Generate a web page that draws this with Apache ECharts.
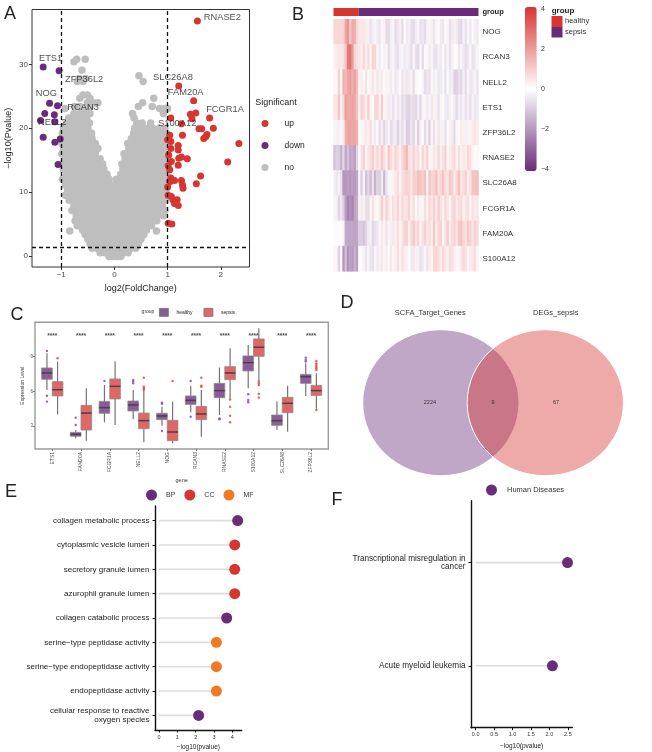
<!DOCTYPE html>
<html><head><meta charset="utf-8">
<style>html,body{margin:0;padding:0;background:#fff}#c{width:652px;height:752px;filter:blur(0.45px)}</style>
<script src="https://cdn.jsdelivr.net/npm/echarts@6/dist/echarts.min.js"></script>
</head><body><div id="c"></div>
<script>
// ---------- A: volcano
const volcanoUp = [[1.56,36.8],[1.21,26.6],[1.49,24.3],[1.53,22.4],[1.43,22.2],[1.46,21.5],[1.79,21.6],[1.06,21.6],[1.26,20.7],[1.86,20.0],[1.59,19.9],[1.64,19.9],[1.74,19.0],[1.68,18.4],[1.72,18.7],[1.28,18.9],[1.04,18.9],[2.34,17.6],[2.13,14.7],[1.06,17.9],[1.0,18.2],[1.2,17.3],[1.2,16.6],[1.06,16.8],[1.02,15.8],[1.26,15.5],[1.21,15.3],[1.37,15.2],[1.07,14.8],[1.2,14.2],[1.01,14.1],[1.04,13.5],[1.62,12.5],[1.54,11.3],[1.06,12.2],[1.13,11.8],[1.04,11.6],[1.26,11.8],[1.28,11.1],[1.29,10.6],[1.0,10.8],[1.01,9.5],[1.07,9.3],[1.1,8.8],[1.18,8.8],[1.13,8.2],[1.2,7.9],[1.01,5.1],[1.08,5.0]];
const volcanoDown = [[-1.34,29.6],[-1.04,29.0],[-1.22,23.9],[-1.07,23.5],[-1.31,22.3],[-1.13,22.1],[-1.39,21.2],[-1.12,21.0],[-1.34,18.6],[-1.12,17.8],[-1.02,18.3],[-1.06,14.3]];
const volcanoNoRows = [
[-.1,[-.1,-.02,.06,.12]],
[.5,[-.27,-.18,-.09,0,.09,.18,.26]],
[1.2,[-.42,-.33,-.24,-.15,-.06,.04,.13,.22,.31,.4]],
[1.9,[-.46,-.36,-.26,-.16,-.06,.04,.14,.24,.34,.45]],
[2.6,[-.5,-.4,-.3,-.2,-.1,0,.1,.2,.3,.4,.5]],
[3.3,[-.55,-.44,-.33,-.22,-.11,0,.11,.22,.33,.44,.55]],
[3.9,[-.84,.79]],
[4,[-.6,-.5,-.39,-.28,-.17,-.06,.05,.16,.27,.38,.48,.6]],
[4.7,[-.7,-.58,-.46,-.35,-.24,-.13,-.02,.09,.2,.31,.42,.52,.62,.7]],
[5.5,[-.74,-.62,-.5,-.39,-.28,-.17,-.06,.05,.16,.27,.38,.49,.6,.7,.8]],
[6.3,[-.72,-.6,-.49,-.38,-.27,-.16,-.05,.03,.14,.25,.36,.47,.58,.69,.8,.92]],
[7.1,[-.8,-.69,-.58,-.47,-.36,-.25,-.14,-.04,.08,.19,.3,.41,.52,.63,.74,.85,.95]],
[7.9,[-.76,-.65,-.54,-.43,-.32,-.21,-.1,.02,.13,.24,.35,.46,.57,.68,.79,.9]],
[8.7,[-.85,-.74,-.63,-.52,-.41,-.3,-.19,-.09,.02,.08,.19,.3,.41,.52,.63,.74,.85,.96]],
[9.5,[-.92,-.8,-.69,-.58,-.47,-.36,-.25,-.14,-.04,.02,.13,.24,.35,.46,.57,.68,.79,.9]],
[10.3,[-.88,-.77,-.66,-.55,-.44,-.33,-.22,-.12,-.03,.03,.09,.2,.31,.42,.53,.64,.75,.86,.97]],
[11.1,[-.92,-.8,-.69,-.58,-.47,-.36,-.25,-.15,-.05,.03,.14,.25,.36,.47,.58,.69,.8,.91]],
[12,[-.98,-.86,-.75,-.64,-.53,-.42,-.31,-.2,-.1,.04,.08,.19,.3,.41,.52,.63,.74,.85,.96]],
[12.8,[-.9,-.79,-.68,-.57,-.46,-.35,-.24,-.14,.12,.23,.34,.45,.56,.67,.78,.89,.98]],
[13.6,[-.96,-.85,-.74,-.63,-.52,-.41,-.3,-.2,.16,.27,.38,.49,.6,.71,.82,.93]],
[14.4,[-.99,-.88,-.77,-.66,-.55,-.44,-.33,-.22,.14,.25,.36,.47,.58,.69,.8,.91,.99]],
[15.2,[-.93,-.82,-.71,-.6,-.49,-.38,-.27,.2,.31,.42,.53,.64,.75,.86,.97]],
[16,[-.99,-.88,-.77,-.66,-.55,-.44,-.36,.18,.29,.4,.51,.62,.73,.84,.95]],
[16.8,[-.95,-.84,-.73,-.62,-.51,-.4,-.31,.27,.38,.49,.6,.71,.82,.93]],
[17.6,[-.99,-.88,-.77,-.66,-.55,-.44,-.36,.25,.36,.47,.58,.69,.8,.91,.99]],
[18.4,[-.96,-.85,-.74,-.63,-.52,-.42,.32,.43,.54,.65,.76,.87,.97]],
[19.2,[-.98,-.86,-.75,-.64,-.53,-.43,.36,.47,.58,.69,.8,.92,.98]],
[20,[-.96,-.84,-.72,-.6,-.5,.38,.5,.62,.72,.84,.95]],
[20.8,[-.9,-.78,-.66,-.56,-.47,.42,.52,.68]],
[21.6,[-.86,-.74,-.62,-.52,.37]],
[22.3,[-.76,-.65,-.58,-.46,.34,.92]],
[23.1,[-.93,-.56,.85,.95,1.0]],
[23.4,[-.75,-.65,-.45,.45,.71]],
[24,[-.51,-.31,-.39,.53]],
[24.7,[-.65,-.46,.74]],
[25.2,[-.59,-.51]],
[27.3,[-.59,-.7,.54]],
[27.8,[-.66,-.54]],
[28.2,[.46]],
[29.1,[-.61]],
[30.4,[-.76]],
[30.8,[-.71,-.55]]
];
const volcanoGenes = [["RNASE2",2.03,37.3],["ETS1",-1.2,31],["ZFP36L2",-.57,27.7],["NOG",-1.28,25.4],["RCAN3",-.59,23.3],["NELL2",-1.17,20.9],["SLC26A8",1.1,28],["FAM20A",1.34,25.6],["FCGR1A",2.08,23.0],["S100A12",1.18,20.7]];
const xCutoffs = [-1, 1];
const yCutoff = 1.3;
// ---------- B: heatmap
const heatGenes = ["NOG","RCAN3","NELL2","ETS1","ZFP36L2","RNASE2","SLC26A8","FCGR1A","FAM20A","S100A12"];
const groupCounts = {healthy: 11, sepsis: 53};
const heatNOG = [.8,.8,.8,.8,.9,1.8,2.2,1.2,1.7,1.6,.8,.5,.5,.5,.4,-.3,-.6,-.3,-.2,-.4,-.5,.2,.3,-.7,-.7,-.3,-.2,-.7,-.5,-.3,-.7,.1,-.4,-.3,-.6,-.7,-.4,-.2,-.6,-.5,-.7,-.3,.2,-.3,-.5,-.2,.1,-.4,-.5,.1,-.2,-.6,-.4,.3,-.4,-.7,-.8,-.3,-.6,-.2,-.5,.1,-.3,-.4];
const heatRCAN3 = [.3,.4,.5,.5,.6,1.2,2.7,2.9,2.0,.8,.6,.5,.3,.8,.3,.7,.2,.9,.8,-.2,-.4,-.1,-.3,-.2,-.7,-.3,-.2,-.5,-.6,-.3,-.2,-.4,-.3,-.4,-.7,-.2,-.6,-.8,-.1,-.7,-.1,.2,-.4,-.2,-.5,-.6,-.3,-.4,.1,-.5,-.2,-.6,-.3,-.1,.1,-.5,-.2,-.4,-.7,-.5,-.2,-.6,-.4,-.2];
const heatNELL2 = [.2,.1,1.0,.1,1.6,1.4,1.8,2.0,1.6,1.9,1.3,.2,.4,.1,.6,-.1,.3,.5,-.2,.5,-.3,.4,-.1,.3,-.2,-.4,.2,-.5,-.3,.1,-.5,.4,-.5,-.4,.3,-.7,.2,-.1,0,-.2,-.7,-.5,-.6,.2,-.3,-.2,-.5,-.4,-.2,-.6,-.1,-.4,-.3,-.9,-.9,-.6,-.8,-.3,-.7,-.2,-.5,-.4,-.2,-.5];
const heatETS1 = [.5,.5,1.2,.3,.8,2.0,1.7,1.8,1.9,1.7,1.2,.3,.9,.7,.3,1.0,.2,-.1,.8,.9,.3,1.0,.2,.3,-.4,-.3,-.6,.2,-.5,-.3,-.7,-.5,-.8,-.9,-.6,-.7,-.8,-.3,-.8,-.2,.2,-.4,-.2,-.5,.3,-.3,-.6,-.2,.1,-.4,-.5,-.3,.2,-.4,-.7,-.3,-.5,-.2,-.6,-.3,-.7,-.2,-.5,-.4];
const heatZFP36L2 = [-.2,-.3,-.3,-.2,.4,1.6,1.8,1.9,1.8,1.8,1.6,.1,.2,.3,.5,.3,.7,-.2,-.4,-.1,-.7,-.3,-.8,-.4,-.2,-.7,-.5,-.3,-.9,-.4,-.7,-.3,-1.0,-.9,-.5,-.8,-.2,-1.0,-.3,.1,-.7,-.3,-.9,.2,-.6,.2,-.5,.3,-.2,-.6,-.1,.3,-.4,-.7,.2,.1,.4,.3,-.3,.3,.2,.4,.5,.4];
const heatRNASE2 = [-1.2,-.9,-1.0,-1.5,-.8,-1.7,-1.2,-1.8,-1.6,-1.9,-.8,-.1,.6,.9,-.2,.5,.7,1.0,.4,.8,.5,1.1,.6,.3,1.1,.7,.4,.9,.6,.3,.8,1.1,1.4,.6,.5,.9,.5,.7,.2,.8,.4,.9,.3,-.2,.5,.4,.8,-.3,.6,.9,.2,.4,.6,.8,.2,.7,.3,.5,.4,.8,.6,.3,.1,.2];
const heatSLC26A8 = [-.3,-.5,-.3,-.6,-2.0,-2.0,-1.9,-2.1,-1.9,-2.0,-1.7,-.2,-1.0,-.2,-1.2,-.8,-1.3,-.6,-1.5,-.8,-1.0,-.4,-1.4,-.5,-.2,.2,.3,.5,.7,.3,.6,.8,.9,.8,.5,1.0,.9,1.3,1.2,1.0,1.3,-.2,1.2,.8,.9,1.3,.6,.8,1.2,.7,.5,1.1,.9,.4,.8,1.3,.5,.7,.9,.4,.6,1.2,1.2,1.3];
const heatFCGR1A = [-.2,-.3,-.8,-.5,-1.0,-1.9,-2.4,-2.2,-2.4,-1.8,-1.6,.3,-.4,.3,-.6,-.7,-.2,.6,.2,-.1,.4,1.0,.3,.9,.5,.2,.7,.4,.9,.3,.8,.5,.6,.9,.3,.7,.1,.5,.2,-.2,.7,.3,.8,.5,.9,.4,1.0,.6,.3,.8,.5,.2,.7,.9,.4,.6,.8,.3,.5,.7,.2,.6,.4,.5];
const heatFAM20A = [-.1,-.1,-.1,-.1,-.2,-1.7,-1.7,-1.8,-1.7,-1.8,-1.7,-1.0,-1.0,-1.1,-.8,-.4,-.3,-.8,-.6,-.5,.2,.5,-.2,.6,.2,-.3,.5,.3,.7,.2,.5,.9,.9,.3,.8,1.1,.6,.9,.2,.6,.9,.5,.7,.3,1.1,.4,.8,.9,.2,.6,1.0,.4,.7,.9,.5,1.1,1.2,.8,.6,1.1,.9,.5,.9,.7];
const heatS100A12 = [.2,-.2,-.9,.1,-2.0,-1.2,-2.1,-1.8,-2.0,-1.5,-1.9,0,.1,-.3,-.5,-.2,-.5,-.6,.2,-.4,-.3,.5,-.2,.4,.1,.5,.2,-.3,.7,.3,.6,.4,.3,.1,-.4,.5,.3,-.3,-.6,-.4,.2,-.5,.4,.2,.8,.9,.6,.4,.8,.5,.3,.7,.6,.4,-.2,.2,.5,.8,.6,.2,.4,.5,.7,.3];
const colorbarTicks = [4,2,0,-2,-4];
// ---------- C: box plots  [low, q1, median, q3, high]
const boxGenes = ["ETS1","FAM20A","FCGR1A","NELL2","NOG","RCAN3","RNASE2","S100A12","SLC26A8","ZFP36L2"];
const boxHealthy = [[6.12,7.04,7.59,8.02,9.29],[1.93,2.11,2.28,2.45,2.65],[3.32,4.1,4.59,5.13,6.55],[3.58,4.3,4.82,5.16,6.12],[3.03,3.55,3.87,4.1,4.67],[4.18,4.87,5.22,5.6,6.49],[3.95,5.45,6.06,6.69,8.05],[6.26,7.76,8.48,9.06,10.01],[2.65,3.06,3.46,3.95,5.11],[5.6,6.69,7.27,7.47,8.42]];
const boxSepsis = [[4.01,5.6,6.14,6.84,8.57],[1.73,2.65,4.12,4.79,6.26],[3.09,5.34,6.43,7.07,8.57],[1.59,2.77,3.46,4.12,6.12],[1.5,1.73,2.48,3.49,5.11],[2.08,3.55,4.04,4.7,6.12],[5.34,7.01,7.59,8.13,9.72],[6.89,9.03,9.81,10.53,11.45],[2.51,4.15,4.96,5.48,6.49],[4.5,5.65,6.06,6.52,7.56]];
const outHealthy = [[9.49,5.62,5.11],[3.72,3.09],[6.89],[6.98,6.84,6.69],[5.02,4.93,2.57],[6.89,3.81],[3.66,3.58],[5.74,5.25,5.05],[],[8.91,8.71,8.57]];
const outSepsis = [[8.86],[],[],[7.18,6.4,6.26,6.14],[6.89],[7.18,6.49,6.4],[5.28,4.67,3.89,3.32],[6.84,6.69,6.55,5.77,5.45],[],[4.38,8.62,8.42,8.28,8.13,7.99,7.85]];
const signifY = 10.73;
const boxTicks = [3,6,9];
// ---------- D: venn
const vennSets = ["SCFA_Target_Genes","DEGs_sepsis"];
const vennCounts = [2224, 9, 67];
// ---------- E / F: lollipops
const goTerms = ["collagen metabolic process","cytoplasmic vesicle lumen","secretory granule lumen","azurophil granule lumen","collagen catabolic process","serine\u2212type peptidase activity","serine\u2212type endopeptidase activity","endopeptidase activity","cellular response to reactive\noxygen species"];
const goValues = [4.29,4.13,4.13,4.13,3.69,3.13,3.13,3.13,2.16];
const goClass = ["BP","CC","CC","CC","BP","MF","MF","MF","BP"];
const keggTerms = ["Transcriptional misregulation in\ncancer","Acute myeloid leukemia"];
const keggValues = [2.49,2.08];

const PURPLE='#6a2c7a', RED='#d73530', ORANGE='#f07a22', GREY='#bebebe', BOXP='#8a5c98', BOXR='#e16767';
const DODGE=.185;
const FONT='"Liberation Sans", Arial, sans-serif';
const noPoints=[]; volcanoNoRows.forEach(r=>r[1].forEach(x=>noPoints.push([x,r[0]])));
const heatRows=[heatNOG,heatRCAN3,heatNELL2,heatETS1,heatZFP36L2,heatRNASE2,heatSLC26A8,heatFCGR1A,heatFAM20A,heatS100A12];
const nCols=heatNOG.length, heatData=[];
heatRows.forEach((r,i)=>r.forEach((v,j)=>heatData.push([j,i,v])));
const cols=heatNOG.map((_,i)=>i);
const geneTicks=boxGenes.map((_,i)=>i+1);
const outPts=(a,d)=>a.flatMap((l,i)=>l.map(v=>[i+1+d,v]));
const txt=(text,x,y,size,o)=>({type:'text',silent:true,style:Object.assign({text,x,y,fill:'#222',font:`${size}px ${FONT}`,textAlign:'center',textVerticalAlign:'middle'},o||{})});
const lab=(s,c)=>({fontSize:s,color:c||'#4d4d4d',fontFamily:FONT});
const stem=(p,api)=>{const a=api.coord([0,api.value(1)]),b=api.coord([api.value(0),api.value(1)]);return{type:'line',shape:{x1:a[0],y1:a[1],x2:b[0],y2:b[1]},style:{stroke:'#dcdcdc',lineWidth:1.6}}};
const venn=(color)=>(p,api)=>{const c=api.coord([api.value(0),0]),s=api.size([1,1]);return{type:'ellipse',shape:{cx:c[0],cy:c[1],rx:s[0],ry:s[1]},style:{fill:color,stroke:'#fff',lineWidth:1}}};
const boxItem=(fill,d)=>(p,api)=>{
  const x=api.value(0)+d, v=[1,2,3,4,5].map(i=>api.coord([x,api.value(i)]));
  const w=api.size([.37,0])[0], cx=v[0][0];
  return {type:'group',children:[
    {type:'line',shape:{x1:cx,y1:v[0][1],x2:cx,y2:v[4][1]},style:{stroke:'#747474',lineWidth:1.2}},
    {type:'rect',shape:{x:cx-w/2,y:v[3][1],width:w,height:v[1][1]-v[3][1]},style:{fill,stroke:'#8a8a8a',lineWidth:.8}},
    {type:'line',shape:{x1:cx-w/2,y1:v[2][1],x2:cx+w/2,y2:v[2][1]},style:{stroke:'#4a3f4a',lineWidth:1.5}}
  ]};
};
const boxRows=a=>a.map((b,i)=>[i+1,...b]);

const option={
 animation:false,backgroundColor:'#fff',textStyle:{fontFamily:FONT},
 grid:[
  {left:32,top:9.5,width:217.5,height:257.5,show:true,borderColor:'#333',borderWidth:1,backgroundColor:'transparent'},
  {left:333.5,top:8,width:145,height:8},
  {left:333.5,top:19.3,width:145,height:252},
  {left:35,top:322.3,width:293.3,height:126.7,show:true,borderColor:'#9a9a9a',borderWidth:1.4,backgroundColor:'transparent'},
  {left:362.7,top:329.7,width:261,height:146},
  {left:155,top:506,width:86.7,height:224},
  {left:471,top:500.7,width:101.3,height:227}
 ],
 xAxis:[
  {gridIndex:0,type:'value',min:-1.55,max:2.54,splitLine:{show:false},axisLine:{show:false,onZero:false},axisTick:{length:3,lineStyle:{color:'#333'},customValues:[-1,0,1,2]},axisLabel:Object.assign(lab(8),{customValues:[-1,0,1,2],margin:4,formatter:v=>String(v).replace('-','\u2212')}),name:'log2(FoldChange)',nameLocation:'middle',nameGap:17,nameTextStyle:lab(9,'#222')},
  {gridIndex:1,type:'value',min:0,max:nCols,show:false},
  {gridIndex:2,type:'category',data:cols,show:false},
  {gridIndex:3,type:'value',min:.4,max:10.6,splitLine:{show:false},axisLine:{show:false,onZero:false},axisTick:{length:2,lineStyle:{color:'#777'},customValues:geneTicks},axisLabel:Object.assign(lab(5),{customValues:geneTicks,rotate:90,margin:3,formatter:v=>boxGenes[v-1]}),name:'gene',nameLocation:'middle',nameGap:24,nameTextStyle:lab(5.5,'#333')},
  {gridIndex:4,type:'value',min:-1,max:2.34,show:false},
  {gridIndex:5,type:'value',min:-.22,max:4.51,splitLine:{show:false},axisLine:{onZero:false,lineStyle:{color:'#111',width:1.4}},axisTick:{length:2.5,lineStyle:{color:'#111'},customValues:[0,1,2,3,4]},axisLabel:Object.assign(lab(5.5,'#333'),{customValues:[0,1,2,3,4],margin:4}),name:'\u2212log10(pvalue)',nameLocation:'middle',nameGap:14,nameTextStyle:lab(6.5,'#222')},
  {gridIndex:6,type:'value',min:-.127,max:2.62,splitLine:{show:false},axisLine:{onZero:false,lineStyle:{color:'#111',width:1.4}},axisTick:{length:2.5,lineStyle:{color:'#111'},customValues:[0,.5,1,1.5,2,2.5]},axisLabel:Object.assign(lab(5.5,'#333'),{customValues:[0,.5,1,1.5,2,2.5],margin:4,formatter:v=>v.toFixed(1)}),name:'\u2212log10(pvalue)',nameLocation:'middle',nameGap:15,nameTextStyle:lab(6.5,'#222')}
 ],
 yAxis:[
  {gridIndex:0,type:'value',min:-1.75,max:38.6,splitLine:{show:false},axisLine:{show:false,onZero:false},axisTick:{length:3,lineStyle:{color:'#333'},customValues:[0,10,20,30]},axisLabel:Object.assign(lab(8),{customValues:[0,10,20,30],margin:4}),name:'\u2212log10(Pvalue)',nameLocation:'middle',nameGap:19,nameTextStyle:lab(9,'#222')},
  {gridIndex:1,type:'category',data:['group'],position:'right',axisLine:{show:false},axisTick:{show:false},axisLabel:{fontSize:7.5,fontWeight:'bold',color:'#222',margin:4,fontFamily:FONT}},
  {gridIndex:2,type:'category',data:heatGenes,inverse:true,position:'right',axisLine:{show:false},axisTick:{show:false},axisLabel:{fontSize:8,color:'#333',margin:4,fontFamily:FONT}},
  {gridIndex:3,type:'value',min:1.01,max:11.97,splitLine:{show:false},axisLine:{show:false,onZero:false},axisTick:{length:2,lineStyle:{color:'#777'},customValues:boxTicks},axisLabel:Object.assign(lab(4.5),{customValues:boxTicks,margin:2}),name:'Expression Level',nameLocation:'middle',nameGap:10,nameTextStyle:lab(5,'#333')},
  {gridIndex:4,type:'value',min:-1,max:1,show:false},
  {gridIndex:5,type:'value',inverse:true,min:.4,max:9.6,splitLine:{show:false},axisLine:{onZero:false,lineStyle:{color:'#111',width:1.4}},axisTick:{length:2.5,lineStyle:{color:'#111'},customValues:[1,2,3,4,5,6,7,8,9]},axisLabel:Object.assign(lab(8,'#222'),{customValues:[1,2,3,4,5,6,7,8,9],margin:5.5,align:'right',lineHeight:8.7,formatter:v=>goTerms[v-1]})},
  {gridIndex:6,type:'value',inverse:true,min:.4,max:2.6,splitLine:{show:false},axisLine:{onZero:false,lineStyle:{color:'#111',width:1.4}},axisTick:{length:2.5,lineStyle:{color:'#111'},customValues:[1,2]},axisLabel:Object.assign(lab(8.2,'#222'),{customValues:[1,2],margin:5.5,align:'right',lineHeight:8.5,formatter:v=>keggTerms[v-1]})}
 ],
 visualMap:[{type:'continuous',seriesIndex:7,min:-4.1,max:4.1,left:525,top:7,itemWidth:11.7,itemHeight:164,padding:0,text:null,calculable:false,showLabel:false,inRange:{color:[PURPLE,'#ffffff',RED]},textStyle:{fontSize:0}}],
 legend:[
  {data:['up','down','no'],orient:'vertical',left:261.5,top:119,icon:'circle',itemWidth:7,itemHeight:7,itemGap:13,selectedMode:false,padding:0,textStyle:{fontSize:8.5,color:'#222',padding:[0,0,0,11],fontFamily:FONT}},
  {data:[{name:'healthy',itemStyle:{color:BOXP,borderColor:'#777',borderWidth:.8}},{name:'sepsis',itemStyle:{color:BOXR,borderColor:'#777',borderWidth:.8}}],left:159,top:308,icon:'rect',itemWidth:9,itemHeight:8,itemGap:11,selectedMode:false,padding:0,textStyle:{fontSize:5,color:'#222',padding:[0,0,0,3],fontFamily:FONT}},
  {data:['BP','CC','MF'],left:146,top:489.5,icon:'circle',itemWidth:11,itemHeight:11,itemGap:9,selectedMode:false,padding:0,textStyle:{fontSize:7,color:'#333',padding:[0,0,0,4],fontFamily:FONT}},
  {data:['Human Diseases'],left:486,top:484.5,icon:'circle',itemWidth:11,itemHeight:11,selectedMode:false,padding:0,textStyle:{fontSize:7.5,color:'#333',padding:[0,0,0,5],fontFamily:FONT}}
 ],
 series:[
  {name:'no',type:'scatter',xAxisIndex:0,yAxisIndex:0,data:noPoints,symbolSize:7.5,itemStyle:{color:GREY,opacity:1},z:2},
  {name:'up',type:'scatter',xAxisIndex:0,yAxisIndex:0,data:volcanoUp,symbolSize:7,itemStyle:{color:RED,opacity:1},z:3},
  {name:'down',type:'scatter',xAxisIndex:0,yAxisIndex:0,data:volcanoDown,symbolSize:7,itemStyle:{color:PURPLE,opacity:1},z:3},
  {type:'scatter',xAxisIndex:0,yAxisIndex:0,data:volcanoGenes.map(g=>[g[1],g[2],g[0]]),symbolSize:0,z:5,silent:true,label:{show:true,position:'inside',fontSize:9.3,color:'#222',fontFamily:FONT,formatter:p=>p.value[2]}},
  {type:'line',xAxisIndex:0,yAxisIndex:0,data:[],silent:true,symbol:'none',z:4,markLine:{silent:true,symbol:'none',label:{show:false},lineStyle:{color:'#111',type:[4,3],width:1.3},data:[{xAxis:xCutoffs[0]},{xAxis:xCutoffs[1]},{yAxis:yCutoff}]}},
  {type:'bar',stack:'g',xAxisIndex:1,yAxisIndex:1,data:[groupCounts.healthy],barWidth:'100%',itemStyle:{color:RED},silent:true},
  {type:'bar',stack:'g',xAxisIndex:1,yAxisIndex:1,data:[groupCounts.sepsis],barWidth:'100%',itemStyle:{color:PURPLE},silent:true},
  {type:'heatmap',xAxisIndex:2,yAxisIndex:2,data:heatData,silent:true,progressive:0},
  {name:'healthy',type:'custom',xAxisIndex:3,yAxisIndex:3,data:boxRows(boxHealthy),renderItem:boxItem(BOXP,-DODGE),itemStyle:{color:BOXP},silent:true,encode:{x:0,y:[1,2,3,4,5]},z:2},
  {name:'sepsis',type:'custom',xAxisIndex:3,yAxisIndex:3,data:boxRows(boxSepsis),renderItem:boxItem(BOXR,DODGE),itemStyle:{color:BOXR},silent:true,encode:{x:0,y:[1,2,3,4,5]},z:2},
  {type:'scatter',xAxisIndex:3,yAxisIndex:3,data:outPts(outHealthy,-DODGE),symbolSize:2.4,itemStyle:{color:'#8a4aa0',opacity:.85},silent:true,z:3},
  {type:'scatter',xAxisIndex:3,yAxisIndex:3,data:outPts(outSepsis,DODGE),symbolSize:2.4,itemStyle:{color:'#ea4040',opacity:.85},silent:true,z:3},
  {type:'scatter',xAxisIndex:3,yAxisIndex:3,data:geneTicks.map(g=>[g,signifY]),symbolSize:0,silent:true,z:3,label:{show:true,position:'inside',formatter:'****',fontSize:6.5,color:'#222',fontWeight:'bold',fontFamily:FONT}},
  {type:'custom',xAxisIndex:4,yAxisIndex:4,data:[[0]],renderItem:venn('rgba(106,44,122,0.42)'),silent:true,encode:{x:0},z:2},
  {type:'custom',xAxisIndex:4,yAxisIndex:4,data:[[1.337]],renderItem:venn('rgba(215,53,48,0.42)'),silent:true,encode:{x:0},z:3},
  {type:'scatter',xAxisIndex:4,yAxisIndex:4,data:[[-.14,0,vennCounts[0]],[.667,0,vennCounts[1]],[1.474,0,vennCounts[2]]],symbolSize:0,z:5,silent:true,label:{show:true,position:'inside',fontSize:5.5,color:'#111',fontFamily:FONT,formatter:p=>String(p.value[2])}},
  {type:'custom',xAxisIndex:5,yAxisIndex:5,data:goValues.map((v,i)=>[v,i+1]),renderItem:stem,silent:true,encode:{x:0,y:1},z:1},
  {name:'BP',type:'scatter',xAxisIndex:5,yAxisIndex:5,data:goValues.map((v,i)=>[v,i+1,goClass[i]]).filter(d=>d[2]==='BP'),symbolSize:11,itemStyle:{color:PURPLE,opacity:1},z:3,silent:true},
  {name:'CC',type:'scatter',xAxisIndex:5,yAxisIndex:5,data:goValues.map((v,i)=>[v,i+1,goClass[i]]).filter(d=>d[2]==='CC'),symbolSize:11,itemStyle:{color:RED,opacity:1},z:3,silent:true},
  {name:'MF',type:'scatter',xAxisIndex:5,yAxisIndex:5,data:goValues.map((v,i)=>[v,i+1,goClass[i]]).filter(d=>d[2]==='MF'),symbolSize:11,itemStyle:{color:ORANGE,opacity:1},z:3,silent:true},
  {type:'custom',xAxisIndex:6,yAxisIndex:6,data:keggValues.map((v,i)=>[v,i+1]),renderItem:stem,silent:true,encode:{x:0,y:1},z:1},
  {name:'Human Diseases',type:'scatter',xAxisIndex:6,yAxisIndex:6,data:keggValues.map((v,i)=>[v,i+1]),symbolSize:11,itemStyle:{color:PURPLE,opacity:1},z:3,silent:true}
 ],
 graphic:{elements:[
  txt('A',10,14,18),txt('B',298,15,18),txt('C',17,315,18),txt('D',347,303,18),txt('E',11,492,18),txt('F',337,500,18),
  txt('Significant',276,103,9),
  ...colorbarTicks.map(t=>txt(String(t).replace('-','\u2212'),541,89-t*20,7,{fill:'#333',textAlign:'left'})),
  txt('group',563,11,8,{font:`bold 8px ${FONT}`}),
  {type:'rect',shape:{x:551.5,y:16,width:11,height:11},style:{fill:RED}},
  {type:'rect',shape:{x:551.5,y:27,width:11,height:10.5},style:{fill:PURPLE}},
  txt('healthy',565,21,7.5,{textAlign:'left',fill:'#333'}),
  txt('sepsis',565,32,7.5,{textAlign:'left',fill:'#333'}),
  txt('group',148,312,5,{fill:'#333'}),
  txt(vennSets[0],430.3,312.7,7.5,{fill:'#333'}),
  txt(vennSets[1],555.7,312.7,7.5,{fill:'#333'})
 ]}
};
echarts.init(document.getElementById('c'),null,{renderer:'canvas'}).setOption(option);
</script></body></html>
